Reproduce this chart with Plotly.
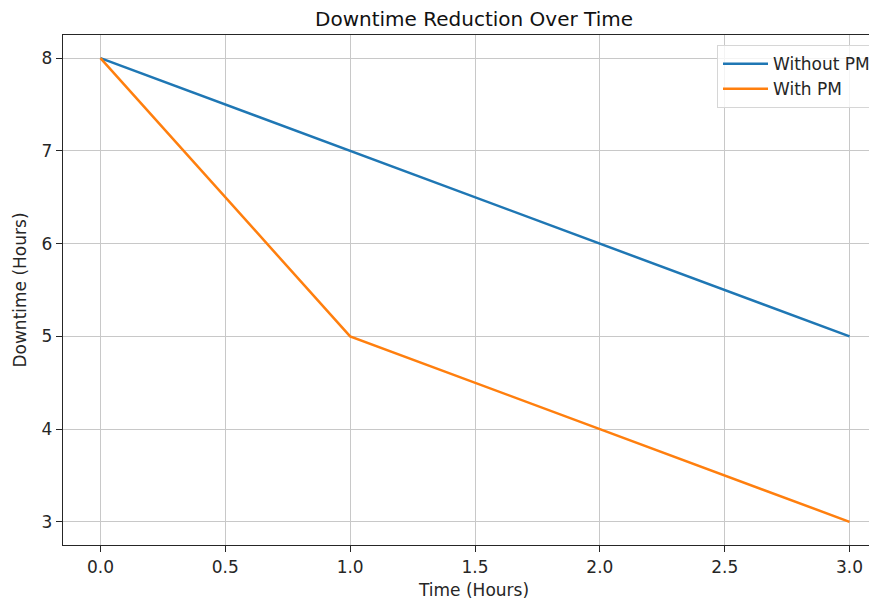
import plotly.graph_objects as go

time_hours = [0, 1, 2, 3]
without_pm = [8, 7, 6, 5]
with_pm = [8, 5, 4, 3]

x_ticks = [0.0, 0.5, 1.0, 1.5, 2.0, 2.5, 3.0]
x_tick_labels = ["0.0", "0.5", "1.0", "1.5", "2.0", "2.5", "3.0"]
y_ticks = [3, 4, 5, 6, 7, 8]

fig = go.Figure()
fig.add_trace(go.Scatter(x=time_hours, y=without_pm, mode="lines", name="Without PM",
                         line=dict(color="#1f77b4", width=2.5)))
fig.add_trace(go.Scatter(x=time_hours, y=with_pm, mode="lines", name="With PM",
                         line=dict(color="#ff7f0e", width=2.5)))

font = "DejaVu Sans"
W, H = 877, 600
fig.update_layout(
    width=W, height=H,
    margin=dict(l=55, r=0, t=27, b=63),
    paper_bgcolor="white", plot_bgcolor="white",
    font=dict(family=font, size=17, color="#262626"),
    title=dict(text="Downtime Reduction Over Time", x=466 / W, xanchor="center",
               y=1 - 11 / H, yanchor="middle", font=dict(size=20, color="#111")),
    showlegend=True,
    legend=dict(x=(868 - 55) / (W - 55), xanchor="right", y=0.98, yanchor="top",
                bgcolor="rgba(255,255,255,0.8)", bordercolor="#d6d6d6", borderwidth=1,
                font=dict(size=17, color="#262626"), itemwidth=45,
                tracegroupgap=0),
)
fig.update_xaxes(
    range=[-0.15, 3.142], tickvals=x_ticks, ticktext=x_tick_labels,
    showgrid=True, gridcolor="#c8c8c8", gridwidth=1.4,
    showline=True, linecolor="#262626", linewidth=1.4, mirror=True,
    ticks="outside", ticklen=6, tickwidth=1.4, tickcolor="#262626", zeroline=False,
    tickfont=dict(size=17),
    title=dict(text="Time (Hours)", standoff=8, font=dict(size=17)),
)
fig.update_yaxes(
    range=[2.75, 8.25], tickvals=y_ticks,
    showgrid=True, gridcolor="#c8c8c8", gridwidth=1.4,
    showline=True, linecolor="#262626", linewidth=1.4, mirror=False,
    ticks="outside", ticklen=6, tickwidth=1.4, tickcolor="#262626", zeroline=False,
    tickfont=dict(size=17),
    title=dict(text="Downtime (Hours)", standoff=10, font=dict(size=17)),
)

fig.write_html("out.html")
